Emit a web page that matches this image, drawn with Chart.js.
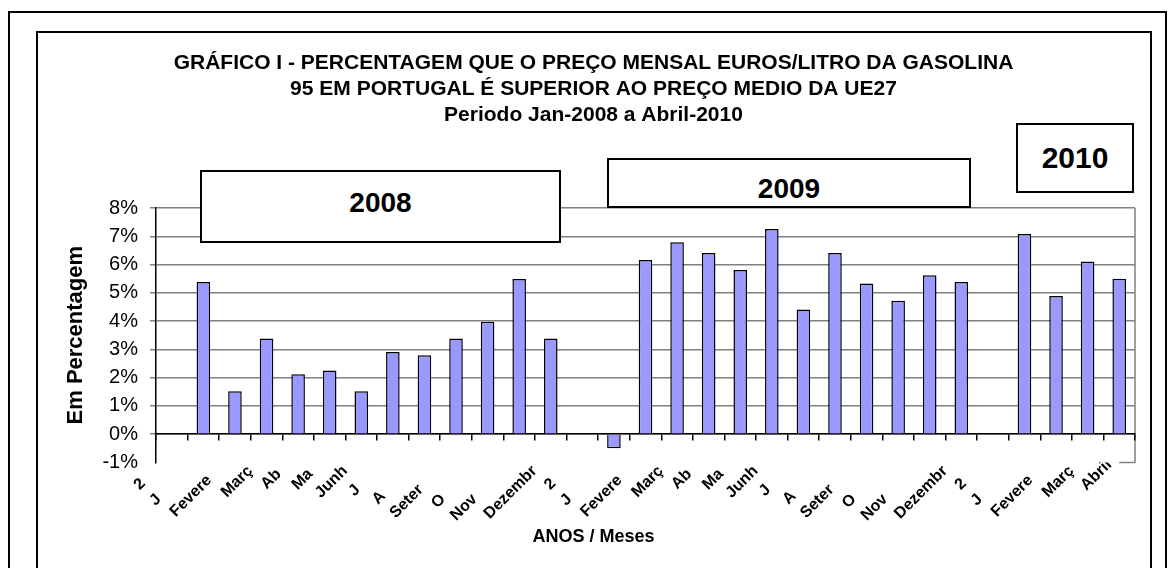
<!DOCTYPE html>
<html>
<head>
<meta charset="utf-8">
<title>Gasolina 95 - Portugal vs UE27</title>
<script src="https://cdn.jsdelivr.net/npm/chart.js@4.4.0/dist/chart.umd.min.js"></script>
<style>
  html, body { margin: 0; padding: 0; background: #fff; overflow: hidden; width: 1169px; height: 568px; }
  .frame { position: absolute; border: 2px solid #000; box-sizing: border-box; }
  #outer { left: 8px; top: 11px; width: 1159px; height: 640px; }
  #inner { left: 36px; top: 31px; width: 1116px; height: 620px; }
  #chartBox { position: absolute; left: 38px; top: 33px; width: 1111px; height: 535px; }
  .yearBox {
    position: absolute; background: #fff; border: 2px solid #000; box-sizing: border-box;
    display: flex; align-items: center; justify-content: center;
    font: bold 28px "Liberation Sans", Arial, sans-serif; color: #000;
  }
</style>
</head>
<body>
<div id="outer" class="frame"></div>
<div id="inner" class="frame"></div>
<div id="chartBox"><canvas id="gasChart" width="1111" height="535"></canvas></div>
<div class="yearBox" style="left:200px; top:170px; width:361px; height:73px; padding-bottom:8px;">2008</div>
<div class="yearBox" style="left:607px; top:158px; width:364px; height:50px; padding-top:12px;">2009</div>
<div class="yearBox" style="left:1016px; top:123px; width:118px; height:70px; font-size:30px;">2010</div>

<script>
// Category names (year marker + months) and the clipped text the reference shows
const categoryNames = [
  '2008', 'Janeiro', 'Fevereiro', 'Março', 'Abril', 'Maio', 'Junho', 'Julho', 'Agosto', 'Setembro', 'Outubro', 'Novembro', 'Dezembro',
  '2009', 'Janeiro', 'Fevereiro', 'Março', 'Abril', 'Maio', 'Junho', 'Julho', 'Agosto', 'Setembro', 'Outubro', 'Novembro', 'Dezembro',
  '2010', 'Janeiro', 'Fevereiro', 'Março', 'Abril'
];
const shownLabels = [
  '2', 'J', 'Fevere', 'Març', 'Ab', 'Ma', 'Junh', 'J', 'A', 'Seter', 'O', 'Nov', 'Dezembr',
  '2', 'J', 'Fevere', 'Març', 'Ab', 'Ma', 'Junh', 'J', 'A', 'Seter', 'O', 'Nov', 'Dezembr',
  '2', 'J', 'Fevere', 'Març', 'Abril'
];

// % above the EU27 average price, per month
const values2008 = [5.38, 1.52, 3.38, 2.12, 2.25, 1.52, 2.91, 2.79, 3.38, 3.98, 5.49, 3.38];
const values2009 = [-0.5, 6.16, 6.79, 6.41, 5.81, 7.26, 4.41, 6.41, 5.33, 4.72, 5.62, 5.38];
const values2010 = [7.08, 4.89, 6.11, 5.5];

const yMin = -1;
const yMax = 8;
const yStep = 1;

const titleLines = [
  'GRÁFICO I - PERCENTAGEM QUE O PREÇO MENSAL EUROS/LITRO DA GASOLINA',
  '95 EM PORTUGAL É SUPERIOR AO PREÇO MEDIO DA UE27',
  'Periodo Jan-2008 a Abril-2010'
];

// year marker categories have no bar
const barValues = [null, ...values2008, null, ...values2009, null, ...values2010];

const FONT = '"Liberation Sans", Arial, sans-serif';
const TICK_FONT_SIZE = 16;

// keep the clipped label where the whole name would end (pad with spaces)
const measureCtx = document.createElement('canvas').getContext('2d');
measureCtx.font = 'bold ' + TICK_FONT_SIZE + 'px ' + FONT;
function padToFull(shown, full) {
  const gap = measureCtx.measureText(full).width - measureCtx.measureText(shown).width;
  const space = measureCtx.measureText(' ').width;
  return shown + ' '.repeat(Math.max(0, Math.round(gap / space)));
}
const xTickLabels = shownLabels.map((s, i) => padToFull(s, categoryNames[i]));

// gray right edge of the plot area, and the bit of bottom edge the labels leave visible
const plotBorder = {
  id: 'plotBorder',
  beforeDraw(chart) {
    const { ctx, chartArea: a } = chart;
    const xScale = chart.scales.x;
    const lastX = xScale.getPixelForTick(xScale.ticks.length - 1);
    ctx.save();
    ctx.strokeStyle = '#808080';
    ctx.lineWidth = 1.5;
    ctx.beginPath();
    ctx.moveTo(a.right, a.top);
    ctx.lineTo(a.right, a.bottom);
    ctx.lineTo(lastX, a.bottom);
    ctx.stroke();
    ctx.restore();
  }
};

new Chart(document.getElementById('gasChart'), {
  type: 'bar',
  data: {
    labels: xTickLabels,
    datasets: [{
      data: barValues,
      xAxisID: 'x',
      yAxisID: 'y',
      backgroundColor: '#9999ff',
      borderColor: '#000000',
      borderWidth: 1.5,
      barPercentage: 0.43,
      categoryPercentage: 1
    }]
  },
  options: {
    responsive: false,
    animation: false,
    devicePixelRatio: 1,
    layout: { padding: { left: 14, right: 14, top: 0, bottom: 0 } },
    plugins: {
      legend: { display: false },
      tooltip: { enabled: false },
      title: {
        display: true,
        text: titleLines,
        color: '#000',
        font: { family: FONT, size: 21, weight: 'bold', lineHeight: 26 / 21 },
        padding: { top: 17, bottom: 80 }
      },
      subtitle: {
        display: true,
        position: 'bottom',
        text: 'ANOS / Meses',
        color: '#000',
        font: { family: FONT, size: 18, weight: 'bold' },
        padding: { top: 0, bottom: 20 }
      }
    },
    scales: {
      x: {
        type: 'category',
        offset: true,
        grid: { display: false },
        border: { display: false },
        ticks: {
          autoSkip: false,
          maxRotation: 45,
          minRotation: 45,
          color: '#000',
          font: { family: FONT, size: TICK_FONT_SIZE, weight: 'bold' },
          padding: -15,
          labelOffset: -10
        },
        afterFit(scale) { scale.height = 64; }
      },
      // zero line with its tick marks
      x0: {
        type: 'category',
        position: { y: 0 },
        offset: true,
        z: 1,
        ticks: { display: false },
        grid: { display: true, offset: true, drawOnChartArea: false, drawTicks: true, tickLength: 6, color: '#000', lineWidth: 1.5 },
        border: { display: true, color: '#000', width: 1.5 }
      },
      y: {
        min: yMin,
        max: yMax,
        ticks: {
          stepSize: yStep,
          color: '#000',
          font: { family: FONT, size: 20 },
          padding: 12,
          callback: v => v + '%'
        },
        grid: {
          color: ctx => (ctx.tick && ctx.tick.value === yMin ? 'rgba(0,0,0,0)' : '#808080'),
          lineWidth: 1.5,
          tickLength: 6
        },
        border: { color: '#000', width: 1.5 },
        title: {
          display: true,
          text: 'Em Percentagem',
          color: '#000',
          font: { family: FONT, size: 22, weight: 'bold' },
          padding: { top: 11, bottom: 0 }
        },
        afterFit(scale) { scale.width = 104; }
      }
    }
  },
  plugins: [plotBorder]
});
</script>
</body>
</html>
